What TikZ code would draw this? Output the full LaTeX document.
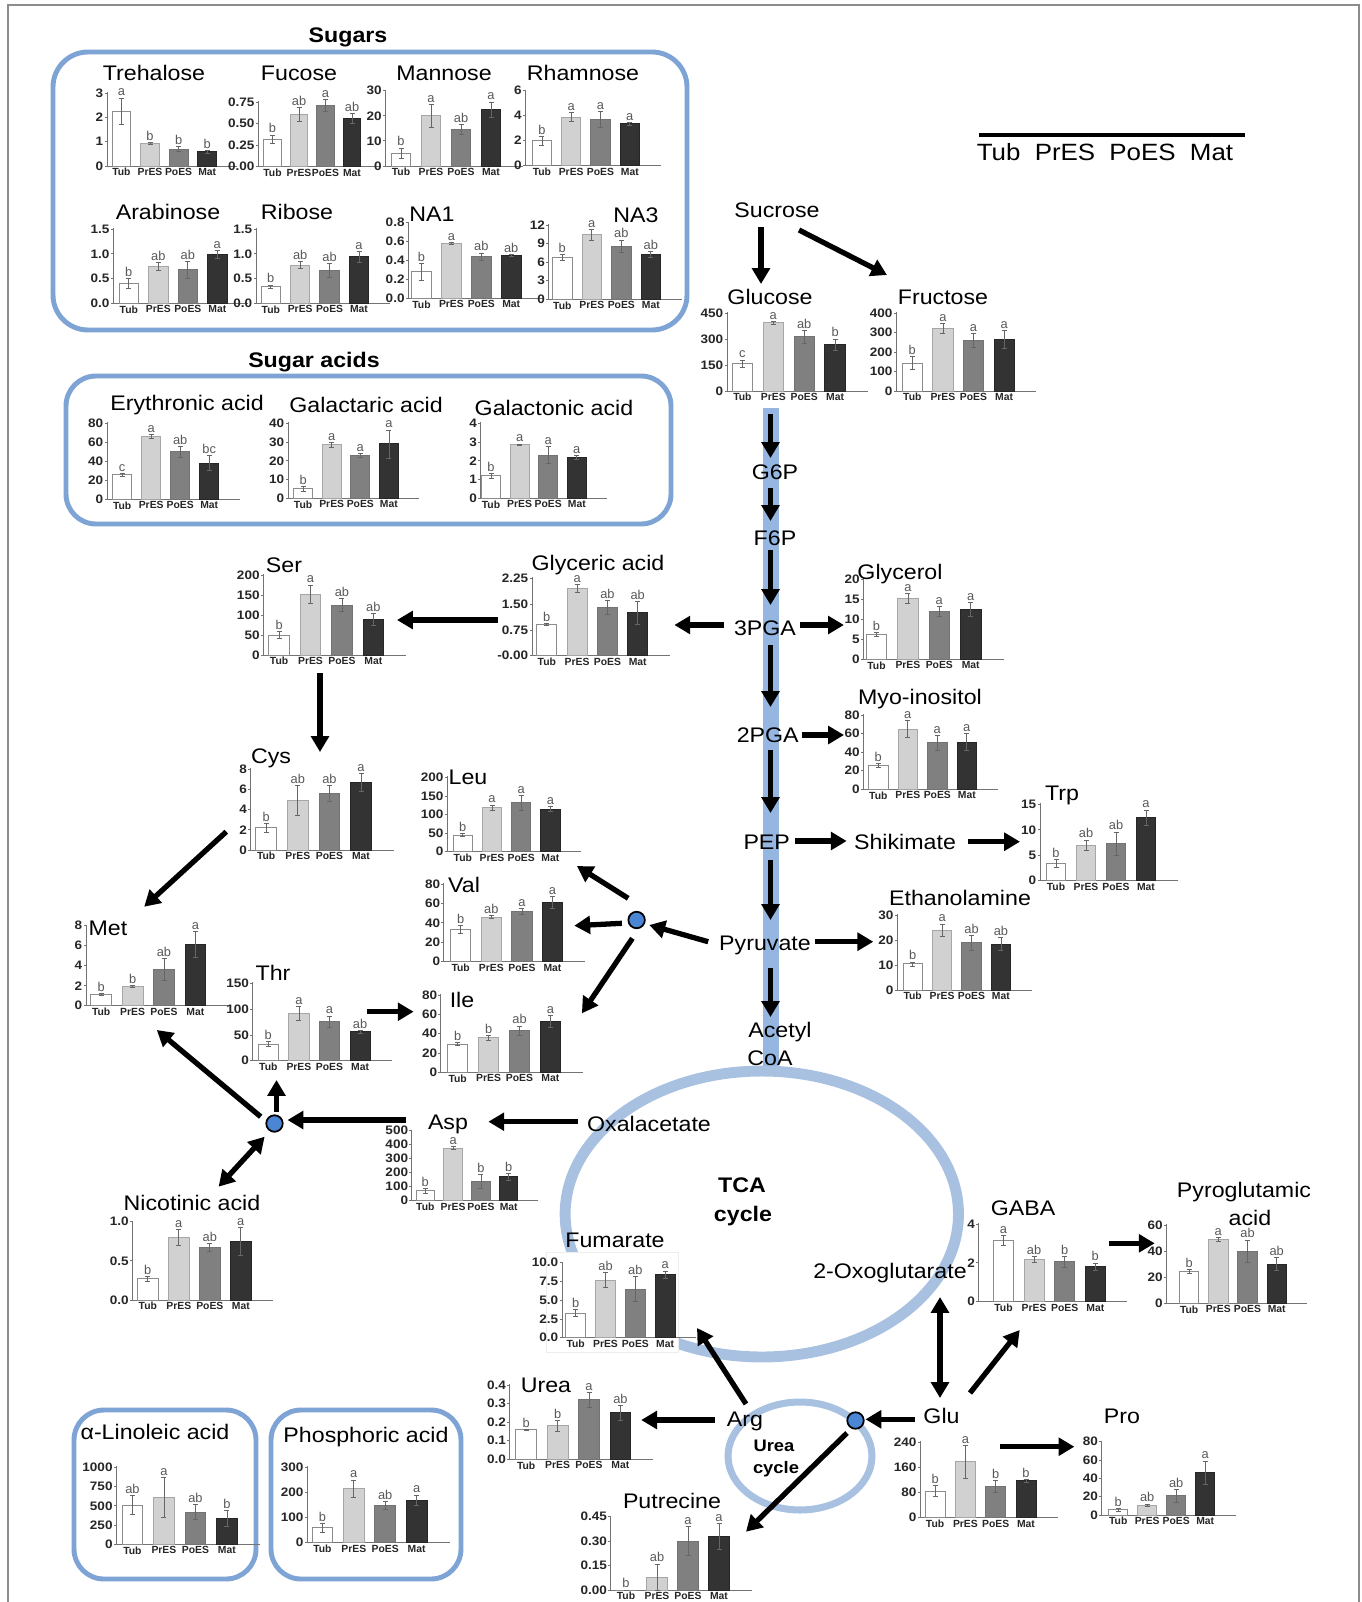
\documentclass[tikz,border=0pt]{standalone}
\usepackage{fontspec}
\setmainfont{Liberation Sans}
\newfontfamily\bigf{Liberation Sans}[FakeStretch=1.1]
\usetikzlibrary{arrows.meta}
\definecolor{boxblue}{HTML}{7DA4D4}
\definecolor{cycblue}{HTML}{A8C1E1}
\definecolor{bandblue}{HTML}{94B6E0}
\definecolor{juncblue}{HTML}{4A86D3}
\tikzset{
  axl/.style={draw=black!55, line width=0.5pt},
  errl/.style={draw=black!60, line width=0.4pt},
  ticklab/.style={anchor=east, inner sep=0pt, text=black!85, font=\bigf\bfseries\fontsize{7}{7.5}\selectfont},
  catlab/.style={anchor=north, inner sep=0.5pt, text=black!85, font=\bfseries\fontsize{5.9}{6.2}\selectfont},
  lettlab/.style={anchor=south, inner sep=0.6pt, text=black!65, font=\fontsize{7.3}{7.5}\selectfont},
  lab/.style={anchor=base, yshift=-0.15cm, inner sep=0pt, font=\bigf\fontsize{12}{14}\selectfont},
  blab/.style={anchor=base, yshift=-0.15cm, inner sep=0pt, font=\bigf\bfseries\fontsize{12}{14}\selectfont},
  arr/.style={line width=3pt, -{Triangle[length=9pt,width=10pt]}},
  darr/.style={line width=3pt, {Triangle[length=9pt,width=10pt]}-{Triangle[length=9pt,width=10pt]}},
  boxl/.style={draw=boxblue, line width=2.8pt},
  junc/.style={circle, fill=juncblue, draw=black, line width=1pt, minimum size=0.33cm, inner sep=0pt}
}
% #1 name, #2 axis x, #3 first bar x, #4 baseline y, #5 axis height, #6 ymax, #7 ticks, #8 bars, #9 spacing
\newcommand\chart[9]{%
\begin{scope}[shift={(#2,#4)}]
  \pgfmathsetmacro\chYu{#5/#6}
  \pgfmathsetmacro\chCz{#3-#2}
  \pgfmathsetmacro\chXe{#3-#2+3.5*#9+0.55*#9}
  \draw[axl] (0,-#5-1) -- (0,0) -- (\chXe,0);
  \foreach \chTV/\chTL [count=\chK] in {#7}{
    \draw[axl] (0,-\chTV*\chYu) -- ++(-2.5,0);
    \node[ticklab] (#1-t\chK) at (-3.5,-\chTV*\chYu) {\chTL};
  }
  \foreach \chBV/\chBE/\chBL [count=\chI] in {#8}{
    \pgfmathsetmacro\chCx{\chCz+(\chI-1)*#9}
    \pgfmathsetmacro\chBh{\chBV*\chYu}
    \pgfmathsetmacro\chEh{\chBE*\chYu}
    \pgfmathsetmacro\chHw{0.33*#9}
    \edef\chFill{\ifcase\chI\or white\or black!18\or black!50\or black!80\fi}
    \edef\chDraw{\ifcase\chI\or black!45\or black!35\or black!55\or black!85\fi}
    \filldraw[fill=\chFill, draw=\chDraw, line width=0.5pt] (\chCx-\chHw,0) rectangle (\chCx+\chHw,-\chBh);
    \draw[errl] (\chCx,-\chBh+\chEh) -- (\chCx,-\chBh-\chEh)
       (\chCx-2.5,-\chBh+\chEh) -- ++(5,0) (\chCx-2.5,-\chBh-\chEh) -- ++(5,0);
    \node[lettlab] (#1-l\chI) at (\chCx,-\chBh-\chEh-0.5) {\chBL};
    \node[catlab] (#1-c\chI) at (\chCx,1) {\ifcase\chI\or Tub\or PrES\or PoES\or Mat\fi};
  }
\end{scope}}
\newcommand\conn[4]{%
  \coordinate (#1-s) at (#2);
  \coordinate (#1-e) at (#3);
  \draw[#4] (#1-s) -- (#1-e);}
\begin{document}
\begin{tikzpicture}[x=0.02cm, y=-0.02cm]
\useasboundingbox (0,0) rectangle (1362,1602);
\fill[white] (0,0) rectangle (1362,1602);
% outer frame
\draw[black!45, line width=0.6pt] (8,1602) -- (8,5) -- (1359,5) -- (1359,1602);

% band and cycles
\fill[bandblue] (763,408) rectangle (779,1073);
\draw[cycblue, line width=6.2pt] (761.8,1214) ellipse [x radius=3.934cm, y radius=2.86cm];
\draw[cycblue, line width=4pt] (800,1456) ellipse [x radius=1.44cm, y radius=1.08cm];

% boxes
\draw[boxl, rounded corners=0.7cm] (53,52) rectangle (687,330);
\draw[boxl, rounded corners=0.6cm] (66,376) rectangle (671,524);
\draw[boxl, rounded corners=0.6cm] (74,1410) rectangle (256,1579);
\draw[boxl, rounded corners=0.6cm] (271,1410) rectangle (461,1579);

% white panel of the Fumarate chart
\filldraw[fill=white, draw=black!7, line width=0.4pt] (546,1252) rectangle (678,1352);

% legend
\draw[line width=2pt] (978.5,135) -- (1244.5,135);
\node[anchor=base, yshift=-0.168cm, inner sep=0pt, font=\bigf\fontsize{13.4}{15}\selectfont] (legend) at (1105,152) {Tub\hspace{0.3em} PrES\hspace{0.3em} PoES\hspace{0.3em} Mat};

% section titles
\node[blab] (sugars) at (348,35) {Sugars};
\node[blab] (sugaracids) at (314,360) {Sugar acids};

% charts
\chart{tre}{107.1}{121.4}{166}{73}{3}{0/0,1/1,2/2,3/3}{2.25/0.55/a,0.93/0.04/b,0.7/0.1/b,0.58/0.07/b}{28.6}
\chart{fuc}{258.2}{272.5}{166.7}{64.4}{0.75}{0/0.00,0.25/0.25,0.5/0.50,0.75/0.75}{0.32/0.05/b,0.61/0.08/ab,0.71/0.07/a,0.56/0.06/ab}{26.5}
\chart{man}{385.6}{401}{166}{75.3}{30}{0/0,10/10,20/20,30/30}{5.2/2/b,20/4.5/a,14.7/2/ab,22.5/3/a}{30}
\chart{rha}{525.6}{541.9}{165.7}{75}{6}{0/0,2/2,4/4,6/6}{2/0.35/b,3.9/0.35/a,3.7/0.65/a,3.35/0.12/a}{29.3}
\chart{ara}{113.3}{128.8}{303.3}{74.3}{1.5}{0/0.0,0.5/0.5,1/1.0,1.5/1.5}{0.4/0.1/b,0.75/0.08/ab,0.68/0.17/ab,0.99/0.08/a}{29.5}
\chart{rib}{256.1}{270.8}{303.3}{74.3}{1.5}{0/0.0,0.5/0.5,1/1.0,1.5/1.5}{0.34/0.03/b,0.77/0.07/ab,0.66/0.14/ab,0.94/0.11/a}{29.4}
\chart{naa}{408.4}{421.5}{298.3}{75.7}{0.8}{0/0.0,0.2/0.2,0.4/0.4,0.6/0.6,0.8/0.8}{0.28/0.09/b,0.58/0.01/a,0.44/0.04/ab,0.45/0.01/ab}{29.9}
\chart{nab}{548.8}{562.3}{299.3}{74.3}{12}{0/0,3/3,6/6,9/9,12/12}{6.8/0.5/b,10.4/0.9/a,8.6/1/ab,7.2/0.5/ab}{29.5}
\chart{glc}{727.1}{742.4}{391}{77.7}{450}{0/0,150/150,300/300,450/450}{158/22/c,395/8/a,315/38/ab,270/32/b}{30.9}
\chart{fru}{896.2}{912.3}{391}{77.7}{400}{0/0,100/100,200/200,300/300,400/400}{143/33/b,322/25/a,262/35/a,267/45/a}{30.6}
\chart{ery}{107.1}{122.2}{499.3}{76}{80}{0/0,20/20,40/40,60/60,80/80}{26/1.5/c,66/2/a,50/6/ab,38/8/bc}{29}
\chart{gar}{288}{303.1}{498.3}{75}{40}{0/0,10/10,20/20,30/30,40/40}{5/1.2/b,28.5/1.3/a,23/1/a,29/7.5/a}{28.6}
\chart{gon}{480.7}{491}{498.3}{75}{4}{0/0,1/1,2/2,3/3,4/4}{1.2/0.12/b,2.85/0.05/a,2.3/0.45/a,2.2/0.1/a}{28.6}
\chart{ser}{263.4}{279.1}{655}{80}{200}{0/0,50/50,100/100,150/150,200/200}{50/9/b,152/23/a,125/17/ab,88/15/ab}{31.4}
\chart{gly}{532}{546.8}{655.7}{77.3}{2.25}{0/-0.00,0.75/0.75,1.5/1.50,2.25/2.25}{0.9/0.03/b,1.95/0.12/a,1.4/0.2/ab,1.25/0.33/ab}{30.3}
\chart{glo}{863.5}{876.5}{659.3}{80}{20}{0/0,5/5,10/10,15/15,20/20}{6.2/0.5/b,15.2/1.2/a,12/1.2/a,12.5/1.7/a}{31.4}
\chart{myo}{863.5}{878.3}{789.3}{74.3}{80}{0/0,20/20,40/40,60/60,80/80}{26/2/b,65/9/a,50/8/a,51/9/a}{29.5}
\chart{cys}{250.7}{266.2}{850}{80.7}{8}{0/0,2/2,4/4,6/6,8/8}{2.2/0.4/b,4.9/1.5/ab,5.6/0.8/ab,6.7/0.9/a}{31.6}
\chart{leu}{447.2}{462.8}{851.7}{74.3}{200}{0/0,50/50,100/100,150/150,200/200}{45/4/b,118/8/a,132/20/a,115/7/a}{29.2}
\chart{val}{443.9}{460.7}{961.7}{77.7}{80}{0/0,20/20,40/40,60/60,80/80}{33/4/b,46/1.5/ab,52/3/a,61/6/a}{30.6}
\chart{ile}{440.9}{457.7}{1072.3}{77.3}{80}{0/0,20/20,40/40,60/60,80/80}{29/1.5/b,36/2.5/b,43/5/ab,53/6/a}{30.9}
\chart{met}{86.1}{101.2}{1005.7}{80}{8}{0/0,2/2,4/4,6/6,8/8}{1.1/0.1/b,1.9/0.1/b,3.6/1.1/ab,6.1/1.3/a}{31.4}
\chart{thr}{252.8}{268.3}{1060.7}{77.3}{150}{0/0,50/50,100/100,150/150}{32/5/b,92/13/a,76/11/a,56/2/ab}{30.6}
\chart{trp}{1040}{1056}{880.7}{76.3}{15}{0/0,5/5,10/10,15/15}{3.4/0.8/b,7/1/ab,7.3/2.3/ab,12.4/1.5/a}{30}
\chart{eth}{897.3}{912.7}{990}{74.7}{30}{0/0,10/10,20/20,30/30}{10.5/0.8/b,24/2.5/a,19/3/ab,18.5/2.5/ab}{29.4}
\chart{asp}{411.9}{425.3}{1200.7}{70}{500}{0/0,100/100,200/200,300/300,400/400,500/500}{70/20/b,375/10/a,140/50/b,170/25/b}{27.8}
\chart{nic}{132.5}{147.8}{1300}{78.3}{1}{0/0.0,0.5/0.5,1/1.0}{0.27/0.03/b,0.8/0.1/a,0.67/0.05/ab,0.75/0.18/a}{31}
\chart{fum}{562}{575.7}{1337.7}{75}{10}{0/0.0,2.5/2.5,5/5.0,7.5/7.5,10/10.0}{3.3/0.5/b,7.7/1/ab,6.5/1.7/ab,8.4/0.5/a}{29.8}
\chart{gab}{978.8}{1003.5}{1301.7}{77.7}{4}{0/0,2/2,4/4}{3.15/0.25/a,2.2/0.15/ab,2.05/0.3/b,1.8/0.2/b}{30.6}
\chart{pyr}{1166.6}{1189.1}{1303.3}{78.3}{60}{0/0,20/20,40/40,60/60}{24.5/1.5/b,49/1.5/a,40/8.5/ab,30/5/ab}{29.2}
\chart{lin}{116.4}{132.4}{1544.3}{77}{1000}{0/0,250/250,500/500,750/750,1000/1000}{510/120/ab,610/255/a,420/100/ab,340/105/b}{31.5}
\chart{pho}{307.2}{322.4}{1542.7}{75.3}{300}{0/0,100/100,200/200,300/300}{60/18/b,215/35/a,148/17/ab,170/20/a}{31.4}
\chart{ure}{509.7}{526.2}{1459.3}{74.3}{0.4}{0/0.0,0.1/0.1,0.2/0.2,0.3/0.3,0.4/0.4}{0.16/0.003/b,0.18/0.03/b,0.32/0.04/a,0.25/0.04/ab}{31.4}
\chart{put}{610.8}{626}{1590}{73.3}{0.45}{0/0.00,0.15/0.15,0.3/0.30,0.45/0.45}{0/0/b,0.08/0.08/ab,0.3/0.09/a,0.33/0.08/a}{31}
\chart{glu}{920.2}{935.1}{1517.7}{75.3}{240}{0/0,80/80,160/160,240/240}{85/18/b,178/52/a,100/20/b,118/5/b}{30.3}
\chart{pro}{1101.8}{1118.2}{1515}{73.3}{80}{0/0,20/20,40/40,60/60,80/80}{6/1.5/b,11/1/ab,21/7/ab,46/13/a}{29}

% chart titles
\node[lab] (T-tre) at (154,73) {Trehalose};
\node[lab] (T-fuc) at (299,73) {Fucose};
\node[lab] (T-man) at (444,73) {Mannose};
\node[lab] (T-rha) at (583,73) {Rhamnose};
\node[lab] (T-ara) at (168,212) {Arabinose};
\node[lab] (T-rib) at (297,212) {Ribose};
\node[lab] (T-naa) at (432,214) {NA1};
\node[lab] (T-nab) at (636,215) {NA3};
\node[lab] (T-glc) at (770,297) {Glucose};
\node[lab] (T-fru) at (943,297) {Fructose};
\node[lab] (T-ery) at (187,403) {Erythronic acid};
\node[lab] (T-gar) at (366,405) {Galactaric acid};
\node[lab] (T-gon) at (554,408) {Galactonic acid};
\node[lab] (T-ser) at (284,565) {Ser};
\node[lab] (T-gly) at (598,563) {Glyceric acid};
\node[lab] (T-glo) at (900,572) {Glycerol};
\node[lab] (T-myo) at (920,697) {Myo-inositol};
\node[lab] (T-cys) at (271,756) {Cys};
\node[lab] (T-leu) at (468,777) {Leu};
\node[lab] (T-val) at (464,885) {Val};
\node[lab] (T-ile) at (462,1000) {Ile};
\node[lab] (T-met) at (108,928) {Met};
\node[lab] (T-thr) at (273,973) {Thr};
\node[lab] (T-trp) at (1062,793) {Trp};
\node[lab] (T-eth) at (960,898) {Ethanolamine};
\node[lab] (T-asp) at (448,1122) {Asp};
\node[lab] (T-nic) at (192,1203) {Nicotinic acid};
\node[lab] (T-fum) at (615,1240) {Fumarate};
\node[lab] (T-gab) at (1023,1208) {GABA};
\node[lab] (T-pyr1) at (1244,1190) {Pyroglutamic};
\node[lab] (T-pyr2) at (1250,1218) {acid};
\node[lab] (T-lin) at (155,1432) {α-Linoleic acid};
\node[lab] (T-pho) at (366,1435) {Phosphoric acid};
\node[lab] (T-ure) at (546,1385) {Urea};
\node[lab] (T-put) at (672,1501) {Putrecine};
\node[lab] (T-pro) at (1122,1416) {Pro};

% arrows
\conn{a1}{761,227}{761,284}{arr}
\conn{a2}{799,230}{887,275}{arr}
\conn{a3}{770.5,414}{770.5,458}{arr}
\conn{a4}{770.5,488}{770.5,521}{arr}
\conn{a5}{770.5,550}{770.5,605}{arr}
\conn{a6}{770.5,645}{770.5,707}{arr}
\conn{a7}{770.5,750}{770.5,813}{arr}
\conn{a8}{770.5,860}{770.5,920}{arr}
\conn{a9}{770.5,968}{770.5,1017}{arr}
\conn{a10}{723.6,625}{674.4,625}{arr}
\conn{a11}{799.7,625}{843.9,625}{arr}
\conn{a12}{497.6,620}{397,620}{arr}
\conn{a13}{320,673}{320,752}{arr}
\conn{a14}{802,735}{844,735}{arr}
\conn{a15}{795,841}{846.7,841}{arr}
\conn{a16}{968.3,841.7}{1020,841.7}{arr}
\conn{a17}{815,941.7}{873.3,941.7}{arr}
\conn{a18}{708.2,941.7}{649.3,925}{arr}
\conn{a19}{628.2,898.3}{576.9,866}{arr}
\conn{a20}{621.9,923.3}{574.3,925.7}{arr}
\conn{a21}{632.4,938.3}{581.9,1013.3}{arr}
\conn{a22}{226.3,831.7}{144.2,906.7}{arr}
\conn{a23}{367.3,1011.7}{413.6,1011.7}{arr}
\conn{a24}{260.7,1116.7}{156.8,1030}{arr}
\conn{a25}{276.5,1112}{276.5,1080}{arr}
\conn{a26}{406.2,1120}{287.5,1120}{arr}
\conn{a27}{578.4,1121.7}{488.4,1121.7}{arr}
\conn{a28}{264.6,1136.7}{218.6,1186.7}{darr}
\conn{a29}{746,1404}{697,1328}{arr}
\conn{a30}{714.9,1420}{641.2,1420}{arr}
\conn{a31}{915.2,1419.3}{865.5,1419.3}{arr}
\conn{a32}{847,1433}{746,1531.7}{arr}
\conn{a33}{940,1398}{940,1297}{darr}
\conn{a34}{970,1393}{1019.7,1330}{arr}
\conn{a35}{1109.2,1243.3}{1154.7,1243.3}{arr}
\conn{a36}{999.8,1446.7}{1074.4,1446.7}{arr}

% junctions
\node[junc] (j1) at (636.6,920) {};
\node[junc] (j2) at (274.5,1123.5) {};
\node[junc] (j3) at (855.5,1420.5) {};

% pathway labels
\node[lab] (sucrose) at (777,210) {Sucrose};
\node[lab] (g6p) at (775,472) {G6P};
\node[lab] (f6p) at (775,538) {F6P};
\node[lab] (pga3) at (765,628) {3PGA};
\node[lab] (pga2) at (767.7,735) {2PGA};
\node[lab] (pep) at (766.7,841.7) {PEP};
\node[lab] (shik) at (905,841.7) {Shikimate};
\node[lab] (pyruv) at (765,942.7) {Pyruvate};
\node[lab] (acetyl) at (780,1030) {Acetyl};
\node[lab] (coa) at (770,1058) {CoA};
\node[lab] (oxal) at (649,1124) {Oxalacetate};
\node[lab] (oxog) at (890,1271) {2-Oxoglutarate};
\node[lab] (arg) at (745,1419) {Arg};
\node[lab] (glu) at (941.5,1416) {Glu};
\node[blab] (tca1) at (742,1185) {TCA};
\node[blab] (tca2) at (743,1214) {cycle};
\node[anchor=base, yshift=-0.12cm, inner sep=0pt, font=\bigf\bfseries\fontsize{9.5}{11}\selectfont] (urc1) at (774,1445) {Urea};
\node[anchor=base, yshift=-0.12cm, inner sep=0pt, font=\bigf\bfseries\fontsize{9.5}{11}\selectfont] (urc2) at (776,1467) {cycle};
\end{tikzpicture}
\end{document}
